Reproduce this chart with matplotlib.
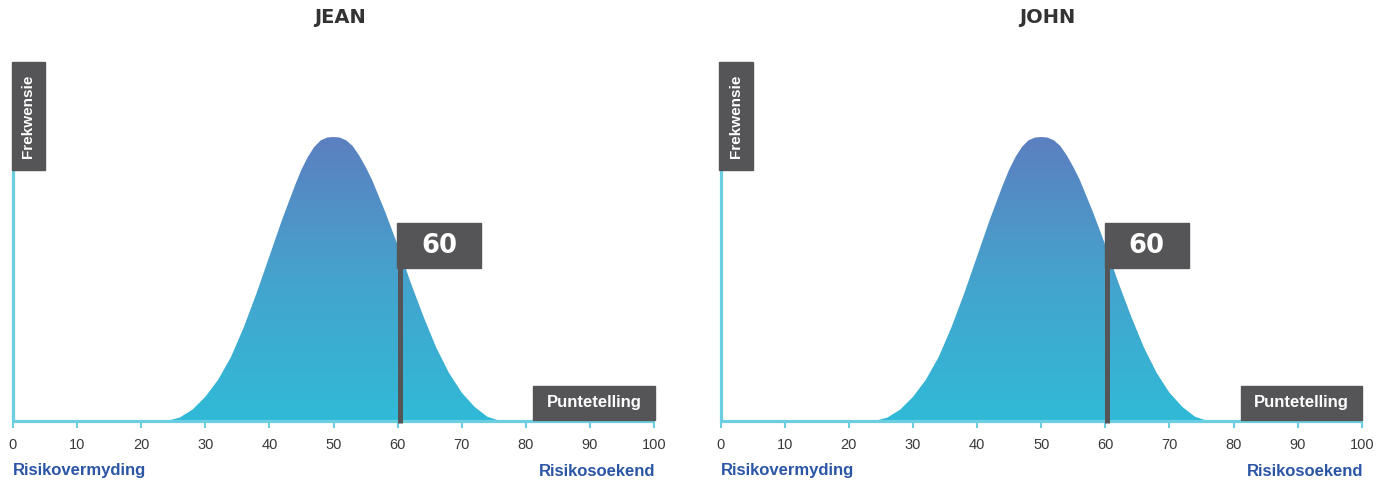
import numpy as np
import matplotlib
matplotlib.use("Agg")
import matplotlib.pyplot as plt
from matplotlib.colors import LinearSegmentedColormap
from matplotlib.patches import Rectangle
from matplotlib.transforms import blended_transform_factory

# risk-profile distribution (score -> relative frequency)
SCORE = [24, 26, 28, 30, 32, 34, 36, 38, 40, 42, 44, 45, 46, 47, 48, 49, 50,
         51, 52, 53, 54, 55, 56, 58, 60, 62, 64, 66, 68, 70, 72, 74, 76]
FREQ = [0, 1.2, 4, 8.5, 14.5, 22.5, 33, 45, 58, 71, 83, 88.5, 93, 96.5, 98.8, 99.8, 100,
        99.8, 98.8, 96.8, 93.5, 89.5, 85, 74, 62, 49, 37, 26, 17, 10, 5, 1.5, 0]

NAMES = ["JEAN", "JOHN"]
RESULTS = [60, 60]
TICKS = list(range(0, 101, 10))

X_LABEL = "Puntetelling"
Y_LABEL = "Frekwensie"
LOW_LABEL = "Risikovermyding"
HIGH_LABEL = "Risikosoekend"

W, H = 1391, 488
CYAN = "#6ccfe1"
DARK = "#555557"
BLUE = "#2b55a5"
SANS = ["Liberation Sans", "DejaVu Sans"]

grad = LinearSegmentedColormap.from_list("bell", ["#30bad7", "#45a3cd", "#5c7fc0"])

fig = plt.figure(figsize=(W / 100, H / 100), dpi=100)

YTOP = 100 * 359 / 284  # head-room above the peak for the axis label box


def panel(left_px, name, result):
    ax = fig.add_axes([left_px / W, (H - 421) / H, 641 / W, 359 / H])
    ax.set_xlim(0, 100)
    ax.set_ylim(0, YTOP)
    for s in ax.spines.values():
        s.set_visible(False)
    ax.set_yticks([])
    ax.set_xticks(TICKS)
    ax.tick_params(axis="x", direction="out", length=5, width=1.5, color=CYAN,
                   labelcolor="#3a3a3a", labelsize=10.5, pad=7)
    for t in ax.get_xticklabels():
        t.set_fontfamily(SANS)

    # bell curve with vertical gradient
    poly = ax.fill_between(SCORE, FREQ, 0, facecolor="none", edgecolor="none")
    img = ax.imshow(np.linspace(0, 1, 256).reshape(-1, 1), cmap=grad, origin="lower",
                    extent=[min(SCORE), max(SCORE), 0, max(FREQ)], aspect="auto", zorder=2)
    img.set_clip_path(poly.get_paths()[0], transform=ax.transData)

    # axes
    ybox = YTOP * (1 - 108 / 359)
    ax.plot([0, 100], [0, 0], color=CYAN, lw=2.3, zorder=3, solid_capstyle="butt", clip_on=False)
    ax.plot([0, 0], [0, ybox], color=CYAN, lw=2.3, zorder=3, solid_capstyle="butt", clip_on=False)

    # frequency label box
    ax.add_patch(Rectangle((-0.2, ybox), 5.2, YTOP - ybox, color=DARK, zorder=4, clip_on=False))
    ax.text(2.4, (ybox + YTOP) / 2, Y_LABEL, rotation=90, ha="center", va="center",
            color="white", fontsize=11, fontweight="bold", family=SANS, zorder=5)

    # score label box
    ax.add_patch(Rectangle((81.2, 0.4), 18.9, 12.0, color=DARK, zorder=4, clip_on=False))
    ax.text(90.65, 6.4, X_LABEL, ha="center", va="center", color="white",
            fontsize=12, fontweight="bold", family=SANS, zorder=5)

    # result flag
    flag_lo = YTOP * 153 / 359
    flag_hi = YTOP * 198 / 359
    ax.plot([result + 0.3, result + 0.3], [-0.8, flag_lo], color=DARK, lw=3.6, zorder=4,
            solid_capstyle="butt", clip_on=False)
    ax.add_patch(Rectangle((result - 0.1, flag_lo), 13.1, flag_hi - flag_lo,
                           color=DARK, zorder=4, clip_on=False))
    ax.text(result - 0.1 + 6.55, (flag_lo + flag_hi) / 2, str(result), ha="center",
            va="center", color="white", fontsize=18.5, fontweight="bold", zorder=5)

    tr = blended_transform_factory(ax.transData, ax.transAxes)
    ax.text(0, -50 / 359, LOW_LABEL, transform=tr, ha="left", va="center",
            color=BLUE, fontsize=12, fontweight="bold", family=SANS)
    ax.text(100.2, -50 / 359, HIGH_LABEL, transform=tr, ha="right", va="center",
            color=BLUE, fontsize=12, fontweight="bold", family=SANS)
    ax.text(51, 1 + 45 / 359, name, transform=tr, ha="center", va="center",
            color="#333333", fontsize=14, fontweight="bold")
    return ax


for left, name, res in zip([13, 720.7], NAMES, RESULTS):
    panel(left, name, res)

fig.savefig("out.png", dpi=100)
